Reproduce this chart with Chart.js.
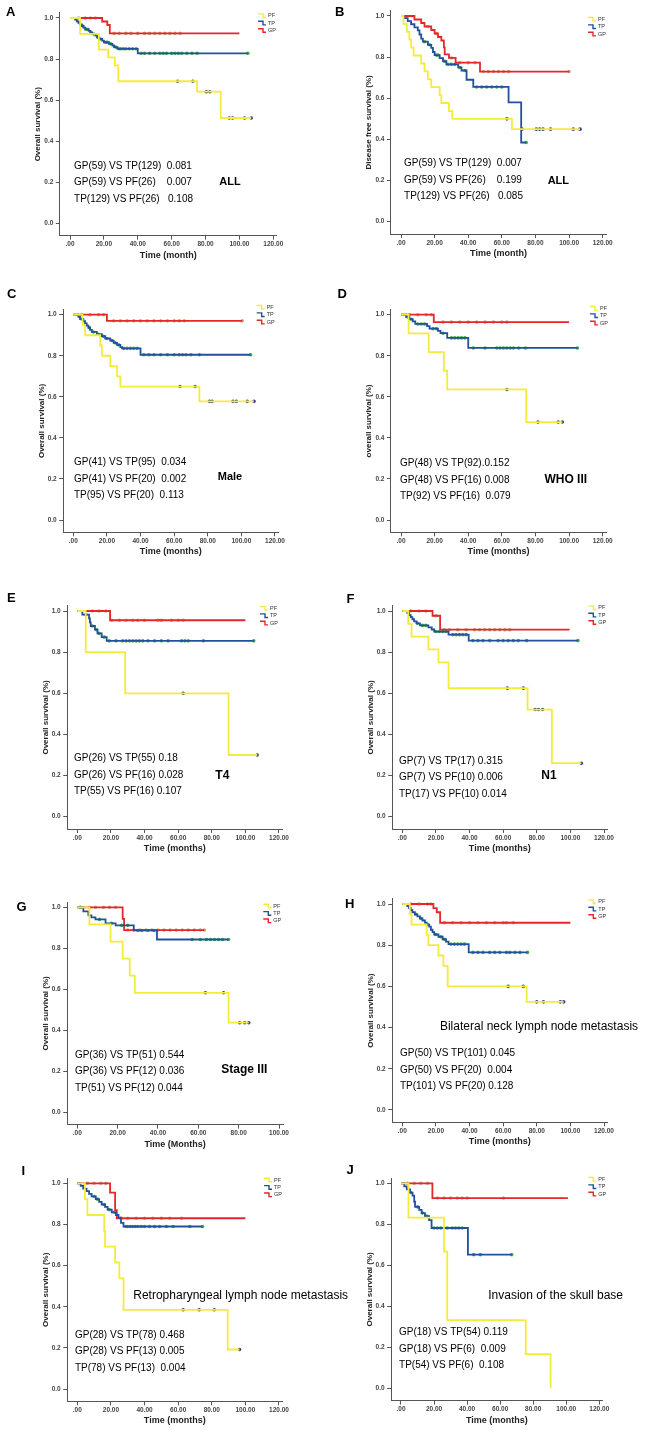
<!DOCTYPE html>
<html>
<head>
<meta charset="utf-8">
<script src="https://cdn.jsdelivr.net/npm/chart.js@4.4.1/dist/chart.umd.min.js"></script>
<style>
  html, body { margin: 0; background: #fff; }
  #page { position: relative; width: 650px; height: 1430px; overflow: hidden; background: #fff; }
  #page canvas { position: absolute; }
</style>
</head>
<body>
<div id="page"></div>
<script>
// Kaplan-Meier curves: [month, survival] after each drop
// censor arrays hold only the times; the height comes from the curve

// A - overall survival, all patients
const aPF = [[0,1],[6,0.923],[17,0.846],[22.5,0.808],[26.5,0.769],[28.5,0.692],[75,0.641],[89,0.513],[107,0.513]];
const aPFc = [63.5, 72.5, 80.5, 82.5, 94, 96, 103, 107];
const aTP = [[0,1],[3,0.992],[4,0.984],[5,0.977],[6,0.969],[7,0.961],[8,0.953],[9,0.945],[11,0.937],[12,0.929],[13,0.922],[15,0.914],[16,0.906],[17,0.898],[19,0.89],[20,0.882],[23,0.874],[25,0.866],[26,0.858],[28,0.85],[40,0.828],[105,0.828]];
const aTPc = [5.5, 7.5, 9.5, 10.5, 12.5, 14, 16.5, 18, 21, 22, 24, 27, 29, 30, 31.5, 33, 35, 37, 39, 42, 44, 47, 50, 53, 55, 57, 60, 62, 64, 66, 69, 72, 75, 105];
const aGP = [[0,1],[19,0.983],[22,0.966],[23.5,0.925],[100,0.925]];
const aGPc = [5, 9, 12, 15, 26, 29, 33, 36, 40, 44, 47, 50, 53, 56, 59, 62, 65];
const aNotes = ["GP(59) VS TP(129)  0.081", "GP(59) VS PF(26)    0.007", "TP(129) VS PF(26)   0.108"];

// B - disease free survival, all patients
const bPF = [[0,1],[1.5,0.962],[3.5,0.923],[5,0.885],[6,0.846],[7.5,0.808],[12,0.769],[14,0.731],[16,0.692],[18,0.654],[23,0.615],[24,0.577],[28.5,0.538],[30.5,0.5],[66,0.45],[106.5,0.45]];
const bPFc = [63, 72, 80.5, 82.5, 84.5, 89, 102.5, 106.5];
const bTP = [[0,1],[2,0.99],[4,0.975],[6,0.96],[8,0.945],[10,0.93],[11,0.91],[12,0.89],[13,0.875],[16,0.86],[18,0.845],[19,0.825],[20,0.81],[23,0.795],[25,0.78],[27,0.765],[34,0.75],[36,0.735],[39,0.69],[43,0.655],[64,0.58],[71.5,0.385],[74.5,0.385]];
const bTPc = [14, 17, 21, 22, 26, 28, 30, 32, 35, 38, 45, 48, 51, 54, 57, 60, 74.5];
const bGP = [[0,1],[8,0.983],[12,0.966],[14,0.949],[18,0.932],[20,0.915],[22,0.898],[24,0.881],[25.5,0.847],[26,0.813],[28.5,0.796],[32.5,0.773],[47,0.73],[100,0.73]];
const bGPc = [16, 21, 30, 35, 40, 44, 49, 52, 55, 58, 61, 64, 100];
const bNotes = ["GP(59) VS TP(129)  0.007", "GP(59) VS PF(26)    0.199", "TP(129) VS PF(26)   0.085"];

// C - overall survival, male
const cPF = [[0,1],[5.5,0.95],[7,0.9],[16,0.85],[17,0.8],[22,0.75],[26,0.7],[28,0.65],[75,0.578],[107.5,0.578]];
const cPFc = [63.5, 72.5, 81, 82.5, 95, 97, 103.5, 107.5];
const cTP = [[0,1],[3,0.99],[4,0.979],[6,0.968],[7,0.958],[8,0.947],[9,0.937],[10,0.926],[11,0.916],[14,0.905],[17,0.895],[19,0.884],[22,0.874],[24,0.863],[26,0.853],[28,0.842],[29,0.836],[40,0.805],[105.5,0.805]];
const cTPc = [5, 9.5, 12, 15, 18, 20, 23, 25, 27, 30, 32, 34, 36, 38, 42, 45, 48, 52, 56, 60, 63, 65, 67, 70, 75, 105.5];
const cGP = [[0,1],[20,0.97],[100.5,0.97]];
const cGPc = [5, 10, 15, 18, 24, 28, 32, 36, 40, 44, 48, 52, 56, 60, 63, 66, 100.5];
const cNotes = ["GP(41) VS TP(95)  0.034", "GP(41) VS PF(20)  0.002", "TP(95) VS PF(20)  0.113"];

// D - overall survival, WHO III
const dPF = [[0,1],[4.5,0.909],[16.5,0.818],[25.5,0.727],[27.5,0.636],[74.5,0.477],[96,0.477]];
const dPFc = [63, 81.5, 93.5, 96];
const dTP = [[0,1],[3,0.989],[5,0.978],[7,0.967],[8.5,0.955],[15.5,0.944],[17,0.932],[22,0.921],[23.5,0.91],[27.5,0.887],[40,0.838],[105,0.838]];
const dTPc = [4, 6, 10, 12, 14, 19, 21, 25, 30, 32, 34, 36, 38, 43, 50, 57, 59, 61, 63, 65, 67, 70, 74, 105];
const dGP = [[0,1],[19.5,0.964],[100,0.964]];
const dGPc = [5, 10, 15, 18, 25, 30, 35, 40, 45, 50, 55, 60, 63];
const dNotes = ["GP(48) VS TP(92).0.152", "GP(48) VS PF(16) 0.008", "TP(92) VS PF(16)  0.079"];

// E - overall survival, T4
const ePF = [[0,1],[5,0.8],[28.5,0.6],[90,0.3],[107,0.3]];
const ePFc = [63, 107];
const eTP = [[0,1],[3,0.982],[7,0.964],[7.5,0.945],[8,0.927],[10.5,0.909],[12,0.891],[14.5,0.873],[17.5,0.855],[105,0.855]];
const eTPc = [5, 9, 11.5, 13, 16, 19, 23, 27, 29, 31, 33, 35, 37, 39, 42, 46, 50, 54, 62, 64, 66, 75, 105];
const eGP = [[0,1],[19.5,0.955],[100,0.955]];
const eGPc = [9, 13, 17, 20.5, 25, 29, 33, 36, 40, 48, 50, 56, 60, 63];
const eNotes = ["GP(26) VS TP(55) 0.18", "GP(26) VS PF(16) 0.028", "TP(55) VS PF(16) 0.107"];

// F - overall survival, N1
const fPF = [[0,1],[3.5,0.938],[5.5,0.875],[15.5,0.813],[21.5,0.75],[27.5,0.625],[74.5,0.521],[89,0.26],[106.5,0.26]];
const fPFc = [62.5, 72, 79, 81, 83.5, 106.5];
const fTP = [[0,1],[3,0.99],[4,0.98],[5,0.97],[6,0.96],[7,0.95],[8.5,0.94],[10.5,0.93],[15.5,0.92],[17.5,0.91],[19,0.9],[27.5,0.885],[39.5,0.856],[104.5,0.856]];
const fTPc = [9, 12, 14, 20, 22, 24, 26, 30, 32, 34, 36, 38, 42, 45, 48, 52, 57, 60, 63, 66, 69, 74, 104.5];
const fGP = [[0,1],[18,0.977],[22.5,0.909],[99.5,0.909]];
const fGPc = [5, 10, 14, 20, 25, 28, 33, 38, 43, 46, 49, 52, 55, 58, 61, 64];
const fNotes = ["GP(7) VS TP(17) 0.315", "GP(7) VS PF(10) 0.006", "TP(17) VS PF(10) 0.014"];

// G - overall survival, stage III (axis to 100 months)
const gPF = [[0,1],[6,0.917],[16.5,0.833],[22.5,0.75],[26,0.667],[28.5,0.583],[75,0.437],[85,0.437]];
const gPFc = [63.5, 72.5, 80.5, 83, 85];
const gTP = [[0,1],[3,0.98],[5.5,0.961],[7,0.951],[9,0.941],[14,0.922],[19,0.912],[28,0.887],[39.5,0.843],[75,0.843]];
const gTPc = [1.5, 11, 17, 22, 25, 30, 32, 35, 38, 57, 61, 64, 66, 68, 70, 72, 75];
const gGP = [[0,1],[22.5,0.944],[23.2,0.889],[63,0.889]];
const gGPc = [6, 9, 13, 16, 19, 25, 28, 31, 34, 37, 40, 43, 46, 49, 52, 55, 58, 61, 63];
const gNotes = ["GP(36) VS TP(51) 0.544", "GP(36) VS PF(12) 0.036", "TP(51) VS PF(12) 0.044"];

// H - overall survival, bilateral neck lymph node metastasis
const hPF = [[0,1],[4.5,0.95],[5.5,0.9],[14.5,0.85],[15.5,0.8],[21.5,0.75],[24.5,0.7],[27,0.6],[74,0.525],[96,0.525]];
const hPFc = [63, 72, 80, 84, 94, 96];
const hTP = [[0,1],[3,0.99],[4,0.98],[5,0.97],[6,0.96],[7.5,0.95],[9,0.94],[10.5,0.93],[12,0.92],[13.5,0.91],[14.5,0.9],[16,0.89],[17,0.875],[18,0.863],[19,0.852],[21.5,0.841],[24,0.829],[26,0.817],[27.5,0.805],[39.5,0.765],[74.5,0.765]];
const hTPc = [8, 11, 15, 20, 23, 25, 29, 31, 33, 35, 37, 42, 45, 48, 52, 55, 58, 62, 64, 67, 70, 74.5];
const hGP = [[0,1],[18.5,0.98],[20.5,0.96],[22.5,0.909],[100,0.909]];
const hGPc = [5, 10, 15, 17, 25, 30, 35, 40, 45, 50, 55, 60, 62, 66];
const hNotes = ["GP(50) VS TP(101) 0.045", "GP(50) VS PF(20)  0.004", "TP(101) VS PF(20) 0.128"];

// I - overall survival, retropharyngeal lymph node metastasis
const iPF = [[0,1],[4.5,0.923],[6,0.846],[16,0.769],[16.5,0.692],[22.5,0.615],[25,0.538],[27.5,0.385],[89.5,0.192],[96.5,0.192]];
const iPFc = [63, 72.5, 81.5, 96.5];
const iTP = [[0,1],[2,0.987],[3.5,0.974],[5.5,0.962],[7,0.949],[8.5,0.936],[11,0.923],[13,0.91],[14.5,0.897],[16.5,0.885],[18,0.872],[20.5,0.859],[23,0.846],[24.5,0.833],[26,0.808],[27.5,0.79],[74.5,0.79]];
const iTPc = [10, 12, 16, 19, 22, 29, 30, 31.5, 33, 34.5, 36, 38, 40, 43, 46, 49, 53, 57, 67, 74.5];
const iGP = [[0,1],[19.5,0.955],[22.5,0.87],[23.5,0.83],[100,0.83]];
const iGPc = [6, 10, 14, 17, 26, 30, 35, 40, 45, 50, 55, 62];
const iNotes = ["GP(28) VS TP(78) 0.468", "GP(28) VS PF(13) 0.005", "TP(78) VS PF(13)  0.004"];

// J - overall survival, invasion of the skull base
const jPF = [[0,1],[4.5,0.833],[26,0.667],[28,0.333],[75.5,0.167],[90.5,0]];
const jPFc = [];
const jTP = [[0,1],[2,0.985],[3.5,0.97],[5.5,0.955],[7,0.94],[8,0.91],[8.5,0.885],[11,0.87],[12.5,0.855],[14.5,0.84],[17,0.82],[18.5,0.782],[40.5,0.652],[67,0.652]];
const jTPc = [6, 10, 13, 15.5, 20, 22, 24, 26, 28, 31, 33, 35, 37, 44, 48, 67];
const jGP = [[0,1],[19,0.928],[101,0.928]];
const jGPc = [4, 8, 12, 16, 22, 26, 30, 34, 37, 40, 62];
const jNotes = ["GP(18) VS TP(54) 0.119", "GP(18) VS PF(6)  0.009", "TP(54) VS PF(6)  0.108"];

const xTicks120 = [0, 20, 40, 60, 80, 100, 120];
const xTicks100 = [0, 20, 40, 60, 80, 100];
const yTicks = [0, 0.2, 0.4, 0.6, 0.8, 1.0];

const YELLOW = "#f4ec3a";
const BLUE = "#23509c";
const RED = "#e5262b";
const PF_MARK = "#33447e";
const TP_MARK = "#3cb046";
const GP_MARK = "#c9a77a";
const FONT = "'Liberation Sans', Arial, sans-serif";

const Y_MIN = -0.06, Y_MAX = 1.025;
const WY = 26.5, HX = 25;

const short = "bold 12px " + FONT;
const small = "bold 11px " + FONT;
const long = "12px " + FONT;

const panels = [
  { letter: "A", at: [6, 12.5], ox: 0, oy: 0, x0: 70, xEnd: 273.3, y1: 18, y0: 223.3, tMax: 120,
    yTitle: "Overall survival (%)", xTitle: "Time (month)",
    pf: aPF, pfc: aPFc, tp: aTP, tpc: aTPc, gp: aGP, gpc: aGPc,
    notes: aNotes, noteAt: [2.4, 0.28], tag: "ALL", tagAt: [94.4, 0.2], tagFont: small, tagAlign: "center", legend: [258, 15.7] },
  { letter: "B", at: [335, 12.5], ox: 325, oy: 0, x0: 401, xEnd: 602.7, y1: 16, y0: 221.7, tMax: 120,
    yTitle: "Disease free survival (%)", xTitle: "Time (month)",
    pf: bPF, pfc: bPFc, tp: bTP, tpc: bTPc, gp: bGP, gpc: bGPc,
    notes: bNotes, noteAt: [1.8, 0.284], tag: "ALL", tagAt: [93.6, 0.2], tagFont: small, tagAlign: "center", legend: [588, 19.3] },
  { letter: "C", at: [7, 294], ox: 0, oy: 280, x0: 73.3, xEnd: 275, y1: 314.7, y0: 520, tMax: 120,
    yTitle: "Overall survival (%)", xTitle: "Time (months)",
    pf: cPF, pfc: cPFc, tp: cTP, tpc: cTPc, gp: cGP, gpc: cGPc,
    notes: cNotes, noteAt: [0.4, 0.279], tag: "Male", tagAt: [93.2, 0.208], tagFont: small, tagAlign: "center", legend: [256.7, 307.3] },
  { letter: "D", at: [337.5, 294.5], ox: 325, oy: 280, x0: 401, xEnd: 602.7, y1: 314.7, y0: 520, tMax: 120,
    yTitle: "overall survival (%)", xTitle: "Time (months)",
    pf: dPF, pfc: dPFc, tp: dTP, tpc: dTPc, gp: dGP, gpc: dGPc,
    notes: dNotes, noteAt: [-0.6, 0.276], tag: "WHO III", tagAt: [98, 0.195], tagFont: short, tagAlign: "center", legend: [590, 308.3] },
  { letter: "E", at: [7, 598.5], ox: 0, oy: 565, x0: 77.3, xEnd: 279, y1: 611, y0: 816.7, tMax: 120,
    yTitle: "Overall survival (%)", xTitle: "Time (months)",
    pf: ePF, pfc: ePFc, tp: eTP, tpc: eTPc, gp: eGP, gpc: eGPc,
    notes: eNotes, noteAt: [-2, 0.284], tag: "T4", tagAt: [86.3, 0.2], tagFont: short, tagAlign: "center", legend: [260, 608.3] },
  { letter: "F", at: [346.5, 599.5], ox: 325, oy: 565, x0: 402.3, xEnd: 604, y1: 611, y0: 816.7, tMax: 120,
    yTitle: "Overall survival (%)", xTitle: "Time (months)",
    pf: fPF, pfc: fPFc, tp: fTP, tpc: fTPc, gp: fGP, gpc: fGPc,
    notes: fNotes, noteAt: [-2, 0.271], tag: "N1", tagAt: [87.3, 0.2], tagFont: short, tagAlign: "center", legend: [588.3, 607.7] },
  { letter: "G", at: [16.5, 907], ox: 0, oy: 850, x0: 77.3, xEnd: 279, y1: 907.3, y0: 1112.3, tMax: 100,
    yTitle: "Overall survival (%)", xTitle: "Time (Months)",
    pf: gPF, pfc: gPFc, tp: gTP, tpc: gTPc, gp: gGP, gpc: gGPc,
    notes: gNotes, noteAt: [-1.2, 0.28], tag: "Stage III", tagAt: [82.8, 0.206], tagFont: short, tagAlign: "center", legend: [263.3, 906] },
  { letter: "H", at: [345, 904], ox: 325, oy: 850, x0: 402.3, xEnd: 604, y1: 904, y0: 1110, tMax: 120,
    yTitle: "Overall survival (%)", xTitle: "Time (months)",
    pf: hPF, pfc: hPFc, tp: hTP, tpc: hTPc, gp: hGP, gpc: hGPc,
    notes: hNotes, noteAt: [-1.4, 0.275], tag: "Bilateral neck lymph node metastasis", tagAt: [22.4, 0.405], tagFont: long, tagAlign: "left", legend: [588.3, 901.7] },
  { letter: "I", at: [21.5, 1171.5], ox: 0, oy: 1140, x0: 77.3, xEnd: 279, y1: 1183.3, y0: 1389, tMax: 120, width: 420,
    yTitle: "Overall survival (%)", xTitle: "Time (months)",
    pf: iPF, pfc: iPFc, tp: iTP, tpc: iTPc, gp: iGP, gpc: iGPc,
    notes: iNotes, noteAt: [-1.4, 0.263], tag: "Retropharyngeal lymph node metastasis", tagAt: [33.3, 0.454], tagFont: long, tagAlign: "left", legend: [264, 1180] },
  { letter: "J", at: [346.5, 1170], ox: 325, oy: 1140, x0: 401, xEnd: 599.3, y1: 1183.3, y0: 1388.3, tMax: 120,
    yTitle: "Overall survival (%)", xTitle: "Time (months)",
    pf: jPF, pfc: jPFc, tp: jTP, tpc: jTPc, gp: jGP, gpc: jGPc,
    notes: jNotes, noteAt: [-1.2, 0.272], tag: "Invasion of the skull base", tagAt: [52.8, 0.45], tagFont: long, tagAlign: "left", legend: [588.3, 1179.3] }
];

const toPoints = curve => curve.map(([x, y]) => ({ x, y }));
const stepAt = (curve, t) => {
  let s = curve[0][1];
  for (const [ti, si] of curve) if (ti <= t) s = si;
  return s;
};
const censorPoints = (curve, times) => times.map(t => ({ x: t, y: stepAt(curve, t) }));

const curveSet = (curve, color) => ({
  data: toPoints(curve), borderColor: color, borderWidth: 1.8, stepped: true,
  pointRadius: 0, fill: false
});
const markSet = (curve, times, color) => ({
  data: censorPoints(curve, times), showLine: false, pointRadius: 1.8,
  pointStyle: "circle", backgroundColor: color, borderColor: color, borderWidth: 0
});

const legendRows = [["PF", YELLOW], ["TP", BLUE], ["GP", RED]];

const decor = p => ({
  id: "decor",
  afterDraw(chart) {
    const { ctx, scales: { x, y } } = chart;
    ctx.save();
    ctx.textBaseline = "middle";
    ctx.fillStyle = "#000";

    ctx.font = "bold 13px " + FONT;
    ctx.textAlign = "left";
    ctx.fillText(p.letter, p.at[0] - p.ox, p.at[1] - p.oy);

    ctx.font = "10px " + FONT;
    ctx.fillStyle = "#000";
    const nx = x.getPixelForValue(p.noteAt[0]);
    const ny = y.getPixelForValue(p.noteAt[1]);
    p.notes.forEach((s, i) => ctx.fillText(s, nx, ny + i * 16.5));

    ctx.font = p.tagFont;
    ctx.textAlign = p.tagAlign;
    ctx.fillText(p.tag, x.getPixelForValue(p.tagAt[0]), y.getPixelForValue(p.tagAt[1]));

    // legend with small step symbols
    ctx.textAlign = "left";
    ctx.font = "5.5px " + FONT;
    const lx = p.legend[0] - p.ox, ly = p.legend[1] - p.oy;
    legendRows.forEach(([name, color], i) => {
      const cy = ly + i * 7.4;
      ctx.strokeStyle = color;
      ctx.lineWidth = 1.4;
      ctx.beginPath();
      ctx.moveTo(lx, cy - 1.8);
      ctx.lineTo(lx + 5, cy - 1.8);
      ctx.lineTo(lx + 5, cy + 1.8);
      ctx.lineTo(lx + 8, cy + 1.8);
      ctx.stroke();
      ctx.fillStyle = "#333";
      ctx.fillText(name, lx + 10, cy);
    });
    ctx.restore();
  }
});

const page = document.getElementById("page");

panels.forEach(p => {
  const kx = (p.xEnd - p.x0) / p.tMax;
  const ky = p.y0 - p.y1;
  const xMin = -0.05 * p.tMax;
  const xMax = p.tMax + 2;
  const areaLeft = p.x0 + xMin * kx;
  const areaRight = p.x0 + xMax * kx;
  const areaTop = p.y1 - (Y_MAX - 1) * ky;
  const areaBottom = p.y0 - Y_MIN * ky;
  const cw = p.width || 325;
  const ch = Math.ceil(areaBottom + HX - p.oy + 4);

  const canvas = document.createElement("canvas");
  canvas.width = cw;
  canvas.height = ch;
  canvas.style.left = p.ox + "px";
  canvas.style.top = p.oy + "px";
  canvas.style.width = cw + "px";
  canvas.style.height = ch + "px";
  page.appendChild(canvas);

  const ticks = p.tMax === 100 ? xTicks100 : xTicks120;

  new Chart(canvas, {
    type: "line",
    data: {
      datasets: [
        curveSet(p.pf, YELLOW),
        curveSet(p.tp, BLUE),
        curveSet(p.gp, RED),
        markSet(p.pf, p.pfc, PF_MARK),
        markSet(p.tp, p.tpc, TP_MARK),
        markSet(p.gp, p.gpc, GP_MARK)
      ]
    },
    options: {
      responsive: false,
      animation: false,
      devicePixelRatio: 1,
      events: [],
      layout: {
        padding: {
          left: areaLeft - p.ox - WY,
          right: p.ox + cw - areaRight,
          top: areaTop - p.oy,
          bottom: p.oy + ch - (areaBottom + HX)
        }
      },
      plugins: { legend: { display: false }, tooltip: { enabled: false } },
      scales: {
        x: {
          type: "linear",
          min: xMin,
          max: xMax,
          afterBuildTicks: s => { s.ticks = ticks.map(value => ({ value })); },
          afterFit: s => {
            s.height = HX;
            s.paddingLeft = 0; s.paddingRight = 0; s.paddingTop = 0; s.paddingBottom = 0;
          },
          grid: { drawOnChartArea: false, drawTicks: true, tickLength: 4, color: "#555" },
          border: { display: true, color: "#555", width: 1 },
          ticks: {
            padding: 1, maxRotation: 0, autoSkip: false, color: "#444",
            font: { family: FONT, size: 6.5, weight: "bold" },
            callback: v => (v === 0 ? ".00" : v.toFixed(2))
          },
          title: {
            display: true, text: p.xTitle, color: "#222", padding: 0,
            font: { family: FONT, size: 9, weight: "bold" }
          }
        },
        y: {
          min: Y_MIN,
          max: Y_MAX,
          afterBuildTicks: s => { s.ticks = yTicks.map(value => ({ value })); },
          afterFit: s => {
            s.width = WY;
            s.paddingLeft = 0; s.paddingRight = 0; s.paddingTop = 0; s.paddingBottom = 0;
          },
          grid: { drawOnChartArea: false, drawTicks: true, tickLength: 4, color: "#555" },
          border: { display: true, color: "#555", width: 1 },
          ticks: {
            padding: 2.5, color: "#444",
            font: { family: FONT, size: 6.5, weight: "bold" },
            callback: v => v.toFixed(1)
          },
          title: {
            display: true, text: p.yTitle, color: "#222", padding: 0,
            font: { family: FONT, size: 8, weight: "bold" }
          }
        }
      }
    },
    plugins: [decor(p)]
  });
});
</script>
</body>
</html>
